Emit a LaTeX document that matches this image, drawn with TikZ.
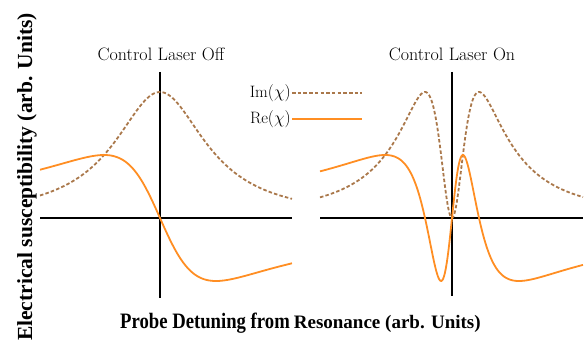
\documentclass[tikz,border=0pt]{standalone}
\usepackage{fontspec}
\usepackage{graphicx}
\newfontfamily\labelfont{Liberation Serif}
\definecolor{imbrown}{RGB}{170,120,75}
\definecolor{reorange}{RGB}{255,142,35}

\begin{document}
\begin{tikzpicture}[x=1pt, y=-1pt,
  declare function={lor(\t)=1/(1+(\t)*(\t));
                    dsp(\t)=-(\t)/(1+(\t)*(\t));
                    eim(\t)=(\t)*(\t)/((\t)*(\t)+((\t)*(\t)-0.2325)*((\t)*(\t)-0.2325));
                    ere(\t)=-(\t)*((\t)*(\t)-0.2325)/((\t)*(\t)+((\t)*(\t)-0.2325)*((\t)*(\t)-0.2325));},
  axisline/.style={line width=1.2pt, black},
  imcurve/.style={imbrown, line width=1.8pt, dash pattern=on 3.5pt off 2.2pt},
  recurve/.style={reorange, line width=1.8pt},
  ttl/.style={font=\fontsize{18}{21}\selectfont, inner sep=0pt},
  lgd/.style={font=\fontsize{16.5}{19}\selectfont, inner sep=1pt}]
  \useasboundingbox (0,0) rectangle (586,342);

  % LEFT panel: control laser off
  \node[ttl, anchor=base] (offttl) at (161,61) {Control Laser Off};
  \coordinate (lxa) at (40,218);
  \coordinate (lxb) at (292,218);
  \coordinate (lya) at (160,72);
  \coordinate (lyb) at (160,298);
  \draw[axisline] (lxa) -- (lxb);
  \draw[axisline] (lya) -- (lyb);
  \draw[imcurve] plot[domain=40:292, samples=160, smooth] (\x, {218-126*lor((\x-160)/56)});
  \draw[recurve] plot[domain=40:292, samples=160, smooth] (\x, {218-126*dsp((\x-160)/56)});

  % RIGHT panel: control laser on
  \node[ttl, anchor=base] (onttl) at (452,61) {Control Laser On};
  \coordinate (rxa) at (320,218);
  \coordinate (rxb) at (583,218);
  \coordinate (rya) at (452,72);
  \coordinate (ryb) at (452,296);
  \draw[axisline] (rxa) -- (rxb);
  \draw[axisline] (rya) -- (ryb);
  \draw[imcurve] plot[domain=320:583, samples=300] (\x, {218-126*eim((\x-452)/56)});
  \draw[recurve] plot[domain=320:583, samples=300] (\x, {218-126*ere((\x-452)/56)});

  % Legend
  \node[lgd, anchor=east] (imlab) at (292,93) {Im$(\chi)$};
  \node[lgd, anchor=east] (relab) at (292,119) {Re$(\chi)$};
  \coordinate (imend) at (362,93);
  \coordinate (reend) at (362,119);
  \draw[imcurve] (imlab.east) -- (imend);
  \draw[recurve] (relab.east) -- (reend);

  % Axis labels
  \node[rotate=90, anchor=base, inner sep=0pt, font=\labelfont\bfseries\fontsize{21.5}{24}\selectfont]
    (ylab) at (32,177) {Electrical susceptibility (arb. Units)};
  \node[anchor=base west, inner sep=0pt, font=\labelfont\bfseries] (xlab) at (120,328)
    {\scalebox{0.85}[1]{\fontsize{22}{24}\selectfont Probe Detuning from}\hspace{4pt}{\fontsize{19}{22}\selectfont Resonance (arb. Units)}};
\end{tikzpicture}
\end{document}
